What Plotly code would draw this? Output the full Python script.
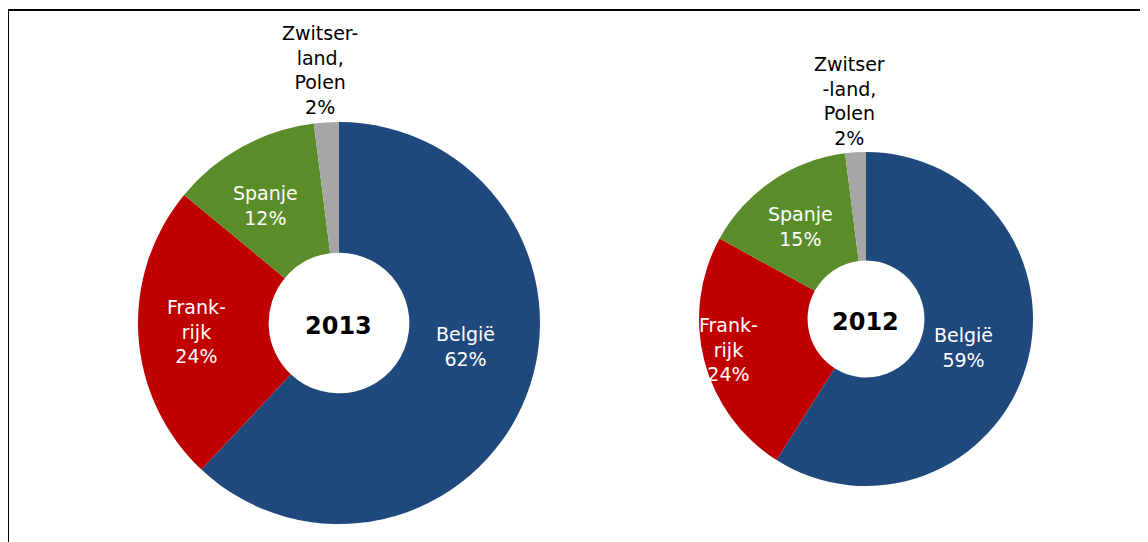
import math
import plotly.graph_objects as go

# ---- data ----
countries = ["België", "Frankrijk", "Spanje", "Zwitserland, Polen"]
label_text = ["België", "Frank-<br>rijk", "Spanje", None]
years = ["2013", "2012"]
shares_2013 = [62, 24, 12, 2]
shares_2012 = [59, 24, 15, 2]
outside_label_2013 = "Zwitser-<br>land,<br>Polen"
outside_label_2012 = "Zwitser<br>-land,<br>Polen"

colors = ["#1F497D", "#C00000", "#5B8C2A", "#A6A6A6"]

W, H = 1148, 542
OFF = 8  # page body margin compensation
FONT = "DejaVu Sans"

# pie geometry (pixels): centre x, centre y, outer radius
pies = [
    dict(year=years[0], vals=shares_2013, cx=339, cy=323, R=201,
         rfac=[0.64, 0.71, 0.69, 1.26], dang=[-11, 0, -3, -0.7],
         outside=outside_label_2013),
    dict(year=years[1], vals=shares_2012, cx=866, cy=319, R=167,
         rfac=[0.61, 0.845, 0.68, 1.31], dang=[0, 2, -1, -0.6],
         outside=outside_label_2012),
]
HOLE = 0.35

fig = go.Figure()
annotations = []

def px2paper(x, y):
    return (x - OFF) / W, 1 - (y - OFF) / H

for p in pies:
    cx, cy, R = p["cx"], p["cy"], p["R"]
    x0, y0 = px2paper(cx - R, cy + R)
    x1, y1 = px2paper(cx + R, cy - R)
    fig.add_trace(go.Pie(
        labels=countries, values=p["vals"], sort=False,
        direction="clockwise", rotation=0, hole=HOLE,
        marker=dict(colors=colors, line=dict(width=0)),
        textinfo="none", hoverinfo="label+percent",
        domain=dict(x=[x0, x1], y=[y0, y1]),
        showlegend=False,
    ))
    total = sum(p["vals"])
    cum = 0
    for i, v in enumerate(p["vals"]):
        mid = (cum + v / 2) / total * 360 + p["dang"][i]
        cum += v
        r = p["rfac"][i] * R
        lx = cx + r * math.sin(math.radians(mid))
        ly = cy - r * math.cos(math.radians(mid))
        ax, ay = px2paper(lx, ly)
        name = label_text[i] if label_text[i] else p["outside"]
        txt = f"{name}<br>{round(v / total * 100)}%"
        col = "white" if label_text[i] else "black"
        annotations.append(dict(
            x=ax, y=ay, xref="paper", yref="paper", text=txt,
            showarrow=False, xanchor="center", yanchor="middle",
            font=dict(family=FONT, size=19, color=col),
        ))
    ax, ay = px2paper(cx - 1, cy + 3)
    annotations.append(dict(
        x=ax, y=ay, xref="paper", yref="paper", text=f"<b>{p['year']}</b>",
        showarrow=False, xanchor="center", yanchor="middle",
        font=dict(family=FONT, size=24, color="black"),
    ))

bx0, by_top = px2paper(8, 10)
fig.update_layout(
    width=W, height=H,
    margin=dict(l=0, r=0, t=0, b=0),
    paper_bgcolor="white", plot_bgcolor="white",
    annotations=annotations,
    shapes=[dict(type="rect", xref="paper", yref="paper",
                 x0=bx0, x1=1.02, y0=-0.02, y1=by_top,
                 line=dict(color="black", width=2))],
)

fig.write_html("out.html")
